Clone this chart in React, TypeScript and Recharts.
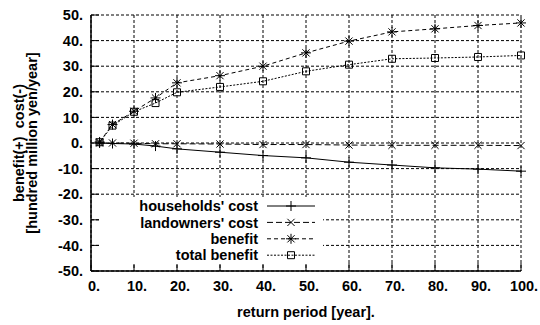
import { LineChart, Line, XAxis, YAxis, CartesianGrid, Legend, Label } from "recharts"

// return period [year] and the four series [hundred million yen/year]
const returnPeriods = [2, 5, 10, 15, 20, 30, 40, 50, 60, 70, 80, 90, 100]
const householdsCost = [0, -0.2, -0.4, -1.2, -2.3, -3.6, -4.9, -5.8, -7.5, -8.6, -9.7, -10.2, -11.0]
const landownersCost = [0, 0, -0.1, -0.3, -0.3, -0.4, -0.6, -0.6, -0.8, -0.9, -0.9, -0.9, -1.0]
const benefit = [0.4, 7.2, 12.4, 17.6, 23.5, 26.3, 30.0, 35.2, 39.8, 43.4, 44.6, 45.9, 46.9]
const totalBenefit = [0.3, 6.8, 12.2, 15.6, 19.8, 21.9, 24.1, 28.0, 30.6, 32.9, 33.2, 33.6, 34.2]

const xTicks = [0, 10, 20, 30, 40, 50, 60, 70, 80, 90, 100]
const yTicks = [-50, -40, -30, -20, -10, 0, 10, 20, 30, 40, 50]

const data = returnPeriods.map((period, i) => ({
  period,
  households: householdsCost[i],
  landowners: landownersCost[i],
  benefit: benefit[i],
  total: totalBenefit[i],
}))

const FONT = '"Liberation Sans", Arial, Helvetica, sans-serif'
const TICK = 8

type MarkerKind = "plus" | "cross" | "star" | "square"

const series: { key: string; name: string; marker: MarkerKind; dash?: string }[] = [
  { key: "households", name: "households' cost", marker: "plus" },
  { key: "landowners", name: "landowners' cost", marker: "cross", dash: "6 3" },
  { key: "benefit", name: "benefit", marker: "star", dash: "4 3" },
  { key: "total", name: "total benefit", marker: "square", dash: "2 1.5" },
]

function Marker({ kind, cx, cy }: { kind: MarkerKind; cx: number; cy: number }) {
  if (cx == null || cy == null) return null
  const r = 5
  const d = 3.6
  let path = ""
  if (kind === "plus") path = `M${cx - r},${cy}H${cx + r}M${cx},${cy - r}V${cy + r}`
  if (kind === "cross") path = `M${cx - d},${cy - d}L${cx + d},${cy + d}M${cx - d},${cy + d}L${cx + d},${cy - d}`
  if (kind === "star")
    path =
      `M${cx - r},${cy}H${cx + r}M${cx},${cy - r}V${cy + r}` +
      `M${cx - d},${cy - d}L${cx + d},${cy + d}M${cx - d},${cy + d}L${cx + d},${cy - d}`
  if (kind === "square") path = `M${cx - 3.5},${cy - 3.5}h7v7h-7Z`
  return <path d={path} stroke="#000" strokeWidth={1} fill="none" />
}

function XTick({ x, y, payload }: any) {
  return (
    <text x={x} y={y} dx={3} dy="0.71em" textAnchor="middle" fontFamily={FONT} fontWeight="bold" fontSize={14.5} fill="#000">
      {payload.value}.
    </text>
  )
}

function YTick({ x, y, payload }: any) {
  return (
    <text x={x} y={y} dy="0.355em" textAnchor="end" fontFamily={FONT} fontWeight="bold" fontSize={14.5} fill="#000">
      {payload.value}.
    </text>
  )
}

// gnuplot-style key: labels right-aligned, sample line + marker on the right
function LegendBox() {
  return (
    <svg width={223} height={67} style={{ display: "block", background: "#fff" }}>
      {series.map((info, i) => {
        const cy = 9 + i * 16.4
        return (
          <g key={info.key}>
            <text x={158} y={cy} dy="0.355em" textAnchor="end" fontFamily={FONT} fontWeight="bold" fontSize={14.5} fill="#000">
              {info.name}
            </text>
            <line x1={167} x2={215} y1={cy} y2={cy} stroke="#000" strokeWidth={1} strokeDasharray={info.dash} />
            <Marker kind={info.marker} cx={191} cy={cy} />
          </g>
        )
      })}
    </svg>
  )
}

export default function App() {
  return (
    <div style={{ position: "absolute", left: 0, top: 0 }}>
      <LineChart width={540} height={325} data={data} margin={{ top: 15, right: 19, bottom: 0, left: 0 }}>
        <CartesianGrid stroke="#000" strokeDasharray="3 2" strokeWidth={1} />
        <XAxis
          dataKey="period"
          type="number"
          domain={[0, 100]}
          ticks={xTicks}
          height={54}
          tickSize={-TICK}
          tickMargin={18}
          tick={<XTick />}
          axisLine={{ stroke: "#000", strokeWidth: 1.5 }}
          tickLine={{ stroke: "#000" }}
        >
          <Label
            content={({ viewBox }: any) => (
              <text
                x={viewBox.x + viewBox.width / 2}
                y={viewBox.y + 45.5}
                textAnchor="middle"
                fontFamily={FONT}
                fontWeight="bold"
                fontSize={14.5}
                fill="#000"
              >
                return period [year].
              </text>
            )}
          />
        </XAxis>
        <XAxis
          xAxisId="top"
          orientation="top"
          type="number"
          domain={[0, 100]}
          ticks={xTicks}
          height={0}
          tickSize={-TICK}
          tick={false}
          axisLine={{ stroke: "#000", strokeWidth: 1.5 }}
          tickLine={{ stroke: "#000" }}
        />
        <YAxis
          type="number"
          domain={[-50, 50]}
          ticks={yTicks}
          width={91}
          tickSize={-TICK}
          tickMargin={16}
          tick={<YTick />}
          axisLine={{ stroke: "#000", strokeWidth: 1.5 }}
          tickLine={{ stroke: "#000" }}
        >
          <Label
            content={({ viewBox }: any) => {
              const cy = viewBox.y + viewBox.height / 2
              return (
                <g fontFamily={FONT} fontWeight="bold" fontSize={14.5} fill="#000">
                  <text x={24} y={cy} textAnchor="middle" transform={`rotate(-90 24 ${cy})`}>
                    {"benefit(+)\u00a0\u00a0cost(-)"}
                  </text>
                  <text x={37} y={cy} textAnchor="middle" transform={`rotate(-90 37 ${cy})`}>
                    [hundred million yen/year]
                  </text>
                </g>
              )
            }}
          />
        </YAxis>
        <YAxis
          yAxisId="right"
          orientation="right"
          type="number"
          domain={[-50, 50]}
          ticks={yTicks}
          width={0}
          tickSize={-TICK}
          tick={false}
          axisLine={{ stroke: "#000", strokeWidth: 1.5 }}
          tickLine={{ stroke: "#000" }}
        />
        <Legend
          layout="vertical"
          align="center"
          verticalAlign="middle"
          wrapperStyle={{ position: "absolute", left: 100, top: 197, width: 223, height: 67 }}
          content={<LegendBox />}
        />
        {series.map((s) => (
          <Line
            key={s.key}
            dataKey={s.key}
            name={s.name}
            type="linear"
            stroke="#000"
            strokeWidth={1}
            strokeDasharray={s.dash}
            dot={(p: any) => <Marker key={`${s.key}-${p.index}`} kind={s.marker} cx={p.cx} cy={p.cy} />}
            activeDot={false}
            isAnimationActive={false}
          />
        ))}
      </LineChart>
    </div>
  )
}
